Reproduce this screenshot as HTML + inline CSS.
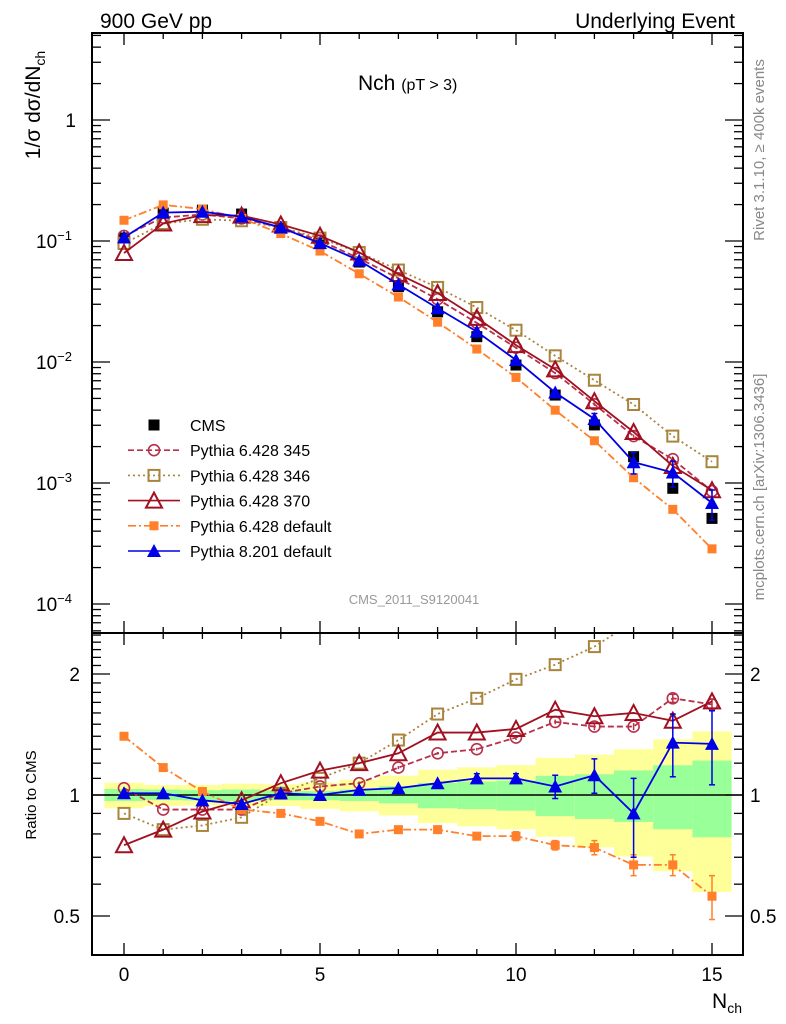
<!DOCTYPE html>
<html><head><meta charset="utf-8"><style>
html,body{margin:0;padding:0;background:#fff;}
svg{display:block;font-family:"Liberation Sans",sans-serif;}
</style></head><body>
<svg id="chart" width="786" height="1024" viewBox="0 0 786 1024" xmlns="http://www.w3.org/2000/svg">
<defs>
<clipPath id="cu"><rect x="92" y="33" width="651" height="600"/></clipPath>
<clipPath id="cl"><rect x="92" y="633" width="651" height="322"/></clipPath>
</defs>
<rect x="0" y="0" width="786" height="1024" fill="#fff"/>
<g id="bands" clip-path="url(#cl)"></g>
<g id="marks"></g>
<text x="100" y="28" font-size="21">900 GeV pp</text>
<text x="735" y="28" font-size="21" text-anchor="end">Underlying Event</text>
<text x="358" y="90" font-size="21">Nch <tspan font-size="16">(pT &gt;  3)</tspan></text>
<text x="414" y="604" font-size="13" fill="#999" text-anchor="middle">CMS_2011_S9120041</text>
<text transform="translate(40,105) rotate(-90)" font-size="21" text-anchor="middle">1/σ dσ/dN<tspan font-size="14" dy="5">ch</tspan></text>
<text transform="translate(36,795) rotate(-90)" font-size="15" text-anchor="middle">Ratio to CMS</text>
<text x="742" y="1008" font-size="21" text-anchor="end">N<tspan font-size="14" dy="5">ch</tspan></text>
<text transform="translate(764,150) rotate(-90)" font-size="15" fill="#888" text-anchor="middle">Rivet 3.1.10, ≥ 400k events</text>
<text transform="translate(764,487) rotate(-90)" font-size="15" fill="#888" text-anchor="middle">mcplots.cern.ch [arXiv:1306.3436]</text>
<g id="axes"></g>
<g id="legend"></g>
</svg>
<script>
const categories=[0,1,2,3,4,5,6,7,8,9,10,11,12,13,14,15];
const cmsValues=[0.106,0.17,0.18,0.167,0.128,0.096,0.067,0.042,0.026,0.0162,0.00944,0.00533,0.00302,0.00165,0.000904,0.00051];
const ratio345=[1.04,0.92,0.92,0.92,1.01,1.05,1.07,1.17,1.27,1.30,1.39,1.52,1.48,1.48,1.74,1.68];
const ratio346=[0.90,0.82,0.84,0.88,1.01,1.10,1.20,1.37,1.59,1.74,1.94,2.11,2.34,2.7,2.7,2.94];
const ratio370=[0.75,0.82,0.91,0.97,1.07,1.15,1.20,1.27,1.43,1.43,1.46,1.63,1.57,1.60,1.53,1.71];
const ratioP6def=[1.40,1.17,1.02,0.92,0.90,0.86,0.80,0.82,0.82,0.79,0.79,0.75,0.74,0.67,0.67,0.56];
const ratioP8def=[1.01,1.01,0.97,0.95,1.01,1.0,1.03,1.04,1.07,1.10,1.10,1.05,1.12,0.90,1.35,1.34];
const errP8=[0.01,0.01,0.01,0.01,0.01,0.01,0.01,0.02,0.02,0.03,0.03,0.07,0.11,0.2,0.24,0.28];
const errP6def=[0.005,0.005,0.005,0.005,0.005,0.005,0.005,0.01,0.01,0.01,0.02,0.02,0.03,0.04,0.04,0.07];
const errCirc=[0.005,0.005,0.005,0.005,0.005,0.01,0.01,0.01,0.01,0.01,0.02,0.02,0.03,0.03,0.04,0.05];
const bandTotUp=[1.073,1.059,1.059,1.067,1.063,1.073,1.092,1.117,1.156,1.172,1.187,1.237,1.26,1.30,1.375,1.44];
const bandTotDn=[0.927,0.939,0.942,0.939,0.939,0.924,0.911,0.889,0.851,0.836,0.822,0.787,0.741,0.703,0.646,0.574];
const bandStatUp=[1.035,1.032,1.028,1.032,1.026,1.023,1.032,1.052,1.071,1.080,1.086,1.116,1.126,1.151,1.186,1.218];
const bandStatDn=[0.966,0.971,0.969,0.966,0.971,0.971,0.966,0.953,0.927,0.922,0.914,0.886,0.872,0.857,0.822,0.785];
const xTicks=[0,5,10,15];
const yTickExp=[0,-1,-2,-3,-4];
const rTicks=[0.5,1,2];

const NS="http://www.w3.org/2000/svg";
const xS=x=>124+39.2*x;
const yU=v=>120-121*Math.log10(v);
const yL=r=>795-121*Math.log2(r);
function mk(tag,attrs,parent){const e=document.createElementNS(NS,tag);for(const k in attrs)e.setAttribute(k,attrs[k]);parent.appendChild(e);return e;}
const marks=document.getElementById('marks');
const axes=document.getElementById('axes');
const bands=document.getElementById('bands');
const legend=document.getElementById('legend');

categories.forEach((c,i)=>{
  let r=mk('rect',{x:xS(c-0.5),y:yL(bandTotUp[i]),width:39.2,height:yL(bandTotDn[i])-yL(bandTotUp[i]),fill:'#ffff99'},bands);
  
  
  let g=mk('rect',{x:xS(c-0.5),y:yL(bandStatUp[i]),width:39.2,height:yL(bandStatDn[i])-yL(bandStatUp[i]),fill:'#99ff99'},bands);
  
  
});
let ul=mk('line',{x1:92,x2:743,y1:yL(1),y2:yL(1),stroke:'#000','stroke-width':1.5},bands);



function marker(type,x,y,color,size,parent){
  let e;
  const s=size/2;
  if(type==='sq') e=mk('rect',{x:x-s,y:y-s,width:size,height:size,fill:color},parent);
  else if(type==='osq') e=mk('rect',{x:x-s+1,y:y-s+1,width:size-2,height:size-2,fill:'none',stroke:color,'stroke-width':2},parent);
  else if(type==='ocirc') e=mk('circle',{cx:x,cy:y,r:s-1,fill:'none',stroke:color,'stroke-width':1.6},parent);
  else if(type==='otri') e=mk('polygon',{points:`${x},${y-s-1} ${x-s-1},${y+s} ${x+s+1},${y+s}`,fill:'none',stroke:color,'stroke-width':2},parent);
  else if(type==='tri') e=mk('polygon',{points:`${x},${y-s-1} ${x-s-1},${y+s} ${x+s+1},${y+s}`,fill:color},parent);
  return e;
}
const series=[
 {name:'pythia-6428-345',ratio:ratio345,err:errCirc,color:'#b8304a',dash:'6,3',m:'ocirc',size:13,label:'Pythia 6.428 345'},
 {name:'pythia-6428-346',ratio:ratio346,err:null,color:'#a8843c',dash:'2,3',m:'osq',size:13,label:'Pythia 6.428 346'},
 {name:'pythia-6428-370',ratio:ratio370,err:null,color:'#a01020',dash:'',m:'otri',size:14,label:'Pythia 6.428 370'},
 {name:'pythia-6428-default',ratio:ratioP6def,err:errP6def,color:'#ff7f2a',dash:'8,3,2,3',m:'sq',size:9,label:'Pythia 6.428 default'},
 {name:'pythia-8201-default',ratio:ratioP8def,err:errP8,color:'#0000e6',dash:'',m:'tri',size:12,label:'Pythia 8.201 default'}
];
const gu=mk('g',{'clip-path':'url(#cu)'},marks);
const gl=mk('g',{'clip-path':'url(#cl)'},marks);
const gc=mk('g',{},gu);


categories.forEach((c,i)=>{
  const m=marker('sq',xS(c),yU(cmsValues[i]),'#000',11,gc);
  
  
});
series.forEach(s=>{
  [['upper',gu],['ratio',gl]].forEach(([pn,par])=>{
    const g=mk('g',{},par);
    
    
    const pts=categories.map((c,i)=>{
      const v=s.ratio[i];
      return [xS(c), pn==='upper'? yU(cmsValues[i]*v): yL(v)];
    });
    const p=mk('polyline',{points:pts.map(p=>p.join(',')).join(' '),fill:'none',stroke:s.color,'stroke-width':1.8},g);
    if(s.dash)p.setAttribute('stroke-dasharray',s.dash);
    
    
    categories.forEach((c,i)=>{
      if(s.err){
        const v=s.ratio[i],e=s.err[i];
        const y1=pn==='upper'?yU(cmsValues[i]*v*(1+e)):yL(v+e);
        const y2=pn==='upper'?yU(cmsValues[i]*v*(1-e)):yL(v-e);
        mk('line',{x1:pts[i][0],x2:pts[i][0],y1:y1,y2:y2,stroke:s.color,'stroke-width':1.5},g);
        if(Math.abs(y2-y1)>8){
          mk('line',{x1:pts[i][0]-3,x2:pts[i][0]+3,y1:y1,y2:y1,stroke:s.color,'stroke-width':1.5},g);
          mk('line',{x1:pts[i][0]-3,x2:pts[i][0]+3,y1:y2,y2:y2,stroke:s.color,'stroke-width':1.5},g);
        }
      }
      const m=marker(s.m,pts[i][0],pts[i][1],s.color,s.size,g);
      
      
    });
  });
});

const fu=mk('rect',{x:92,y:33,width:651,height:600,fill:'none',stroke:'#000','stroke-width':2},axes);


const fl=mk('rect',{x:92,y:633,width:651,height:322,fill:'none',stroke:'#000','stroke-width':2},axes);


for(let x=0;x<=15;x++){
  const L=xTicks.includes(x)?12:6;
  [[33,1],[633,-1],[633,1],[955,-1]].forEach(([y,d])=>{
    mk('line',{x1:xS(x),x2:xS(x),y1:y,y2:y+d*L,stroke:'#000','stroke-width':1.3},axes);
  });
}
xTicks.forEach(x=>{
  const t=mk('text',{x:xS(x),y:981,'font-size':19,'text-anchor':'middle'},axes);
  t.textContent=x;
  
  
});
for(let e=-5;e<=1;e++){
  for(let m=1;m<10;m++){
    const v=m*Math.pow(10,e);const y=yU(v);
    if(y<33||y>633)continue;
    const L=m===1?18:9;
    mk('line',{x1:92,x2:92+L,y1:y,y2:y,stroke:'#000','stroke-width':1.3},axes);
    mk('line',{x1:743,x2:743-L,y1:y,y2:y,stroke:'#000','stroke-width':1.3},axes);
  }
}
yTickExp.forEach(e=>{
  const t=mk('text',{x:e===0?76:72,y:yU(Math.pow(10,e))+7,'font-size':19,'text-anchor':'end'},axes);
  
  
  if(e===0)t.textContent='1';
  else{t.textContent='10';const s=mk('tspan',{dy:-8,'font-size':13},t);s.textContent=String(e).replace('-','−');}
});
for(let r=0.4;r<=2.55;r+=0.1){
  const rr=Math.round(r*10)/10;const y=yL(rr);
  if(y<633||y>955)continue;
  const L=rTicks.includes(rr)?18:9;
  mk('line',{x1:92,x2:92+L,y1:y,y2:y,stroke:'#000','stroke-width':1.3},axes);
  mk('line',{x1:743,x2:743-L,y1:y,y2:y,stroke:'#000','stroke-width':1.3},axes);
}
rTicks.forEach(r=>{
  [[80,'end'],[750,'start']].forEach(([x,a])=>{
    const t=mk('text',{x:x,y:yL(r)+7,'font-size':19,'text-anchor':a},axes);
    t.textContent=r;
    
    
  });
});
const legRows=[{label:'CMS',m:'sq',color:'#000',size:11,dash:null,name:'cms'}].concat(series);
legRows.forEach((s,i)=>{
  const y=425+i*25.2;
  const g=mk('g',{},legend);
  
  
  if(s.dash!==null){
    const l=mk('line',{x1:128,x2:180,y1:y,y2:y,stroke:s.color,'stroke-width':1.6},g);
    if(s.dash)l.setAttribute('stroke-dasharray',s.dash);
  }
  marker(s.m,154,y,s.color,s.size,g);
  const t=mk('text',{x:190,y:y+6,'font-size':16},g);
  t.textContent=s.label;
});
</script>
</body></html>
